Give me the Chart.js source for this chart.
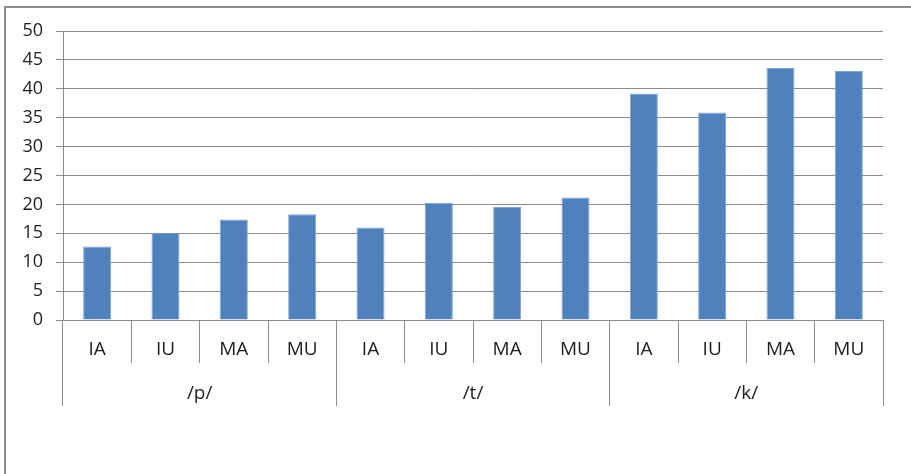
<!DOCTYPE html>
<html>
<head>
<meta charset="utf-8">
<script src="https://cdn.jsdelivr.net/npm/chart.js@4"></script>
<style>
  html, body { margin: 0; padding: 0; background: #fff; overflow: hidden; }
  #wrap { position: relative; width: 911px; height: 474px; }
  #frame { position: absolute; left: 4px; top: 6px; width: 2000px; height: 2000px;
           border: 2px solid #8c8c8c; box-sizing: border-box; }
  #c { position: absolute; left: 0; top: 0; }
</style>
</head>
<body>
<div id="wrap">
  <div id="frame"></div>
  <canvas id="c" width="911" height="474"></canvas>
</div>
<script>
// Vowel contexts within each stop consonant
const vowels = ['IA', 'IU', 'MA', 'MU', 'IA', 'IU', 'MA', 'MU', 'IA', 'IU', 'MA', 'MU'];
// Consonant groups shown on the second label row
const consonants = ['/p/', '/t/', '/k/'];
// Measured values per bar
const values = [12.7, 15.1, 17.4, 18.3, 16.0, 20.3, 19.6, 21.2, 39.2, 35.9, 43.6, 43.1];
// Value axis
const yMin = 0, yMax = 50, yStep = 5;

const gridColor = '#8c8c8c';
const textColor = '#1e1e1e';
const fontFamily = '"Open Sans", "DejaVu Sans", sans-serif';

new Chart(document.getElementById('c'), {
  type: 'bar',
  data: {
    labels: vowels,
    datasets: [{
      data: values,
      backgroundColor: '#4F81BD',
      borderColor: '#7fa3d1',
      borderWidth: { left: 1, right: 1, top: 1, bottom: 0 },
      categoryPercentage: 1,
      barPercentage: 0.41,
      xAxisID: 'x',
      yAxisID: 'y'
    }]
  },
  options: {
    responsive: false,
    animation: false,
    devicePixelRatio: 1,
    layout: { padding: { left: 0, right: 28, top: 31, bottom: 68 } },
    plugins: { legend: { display: false }, tooltip: { enabled: false } },
    scales: {
      y: {
        min: yMin, max: yMax,
        ticks: { stepSize: yStep, padding: 13, color: textColor,
                 font: { family: fontFamily, size: 18 } },
        grid: { color: gridColor, tickLength: 7, tickColor: gridColor },
        border: { display: true, color: gridColor },
        afterFit: s => { s.width = 63; }
      },
      x: {
        position: 'bottom',
        weight: 0,
        offset: true,
        grid: { offset: true, drawOnChartArea: false, tickLength: 43, color: gridColor },
        border: { display: true, color: gridColor },
        ticks: { padding: -25, color: textColor, maxRotation: 0, autoSkip: false,
                 font: { family: fontFamily, size: 19 } },
        afterFit: s => { s.height = 43; }
      },
      x2: {
        type: 'category',
        labels: consonants,
        position: 'bottom',
        weight: 1,
        offset: true,
        grid: { offset: true, drawOnChartArea: false, tickLength: 43, color: gridColor },
        border: { display: false },
        ticks: { padding: -24, color: textColor, maxRotation: 0, autoSkip: false,
                 font: { family: fontFamily, size: 19 } },
        afterFit: s => { s.height = 43; }
      }
    }
  }
});
</script>
</body>
</html>
